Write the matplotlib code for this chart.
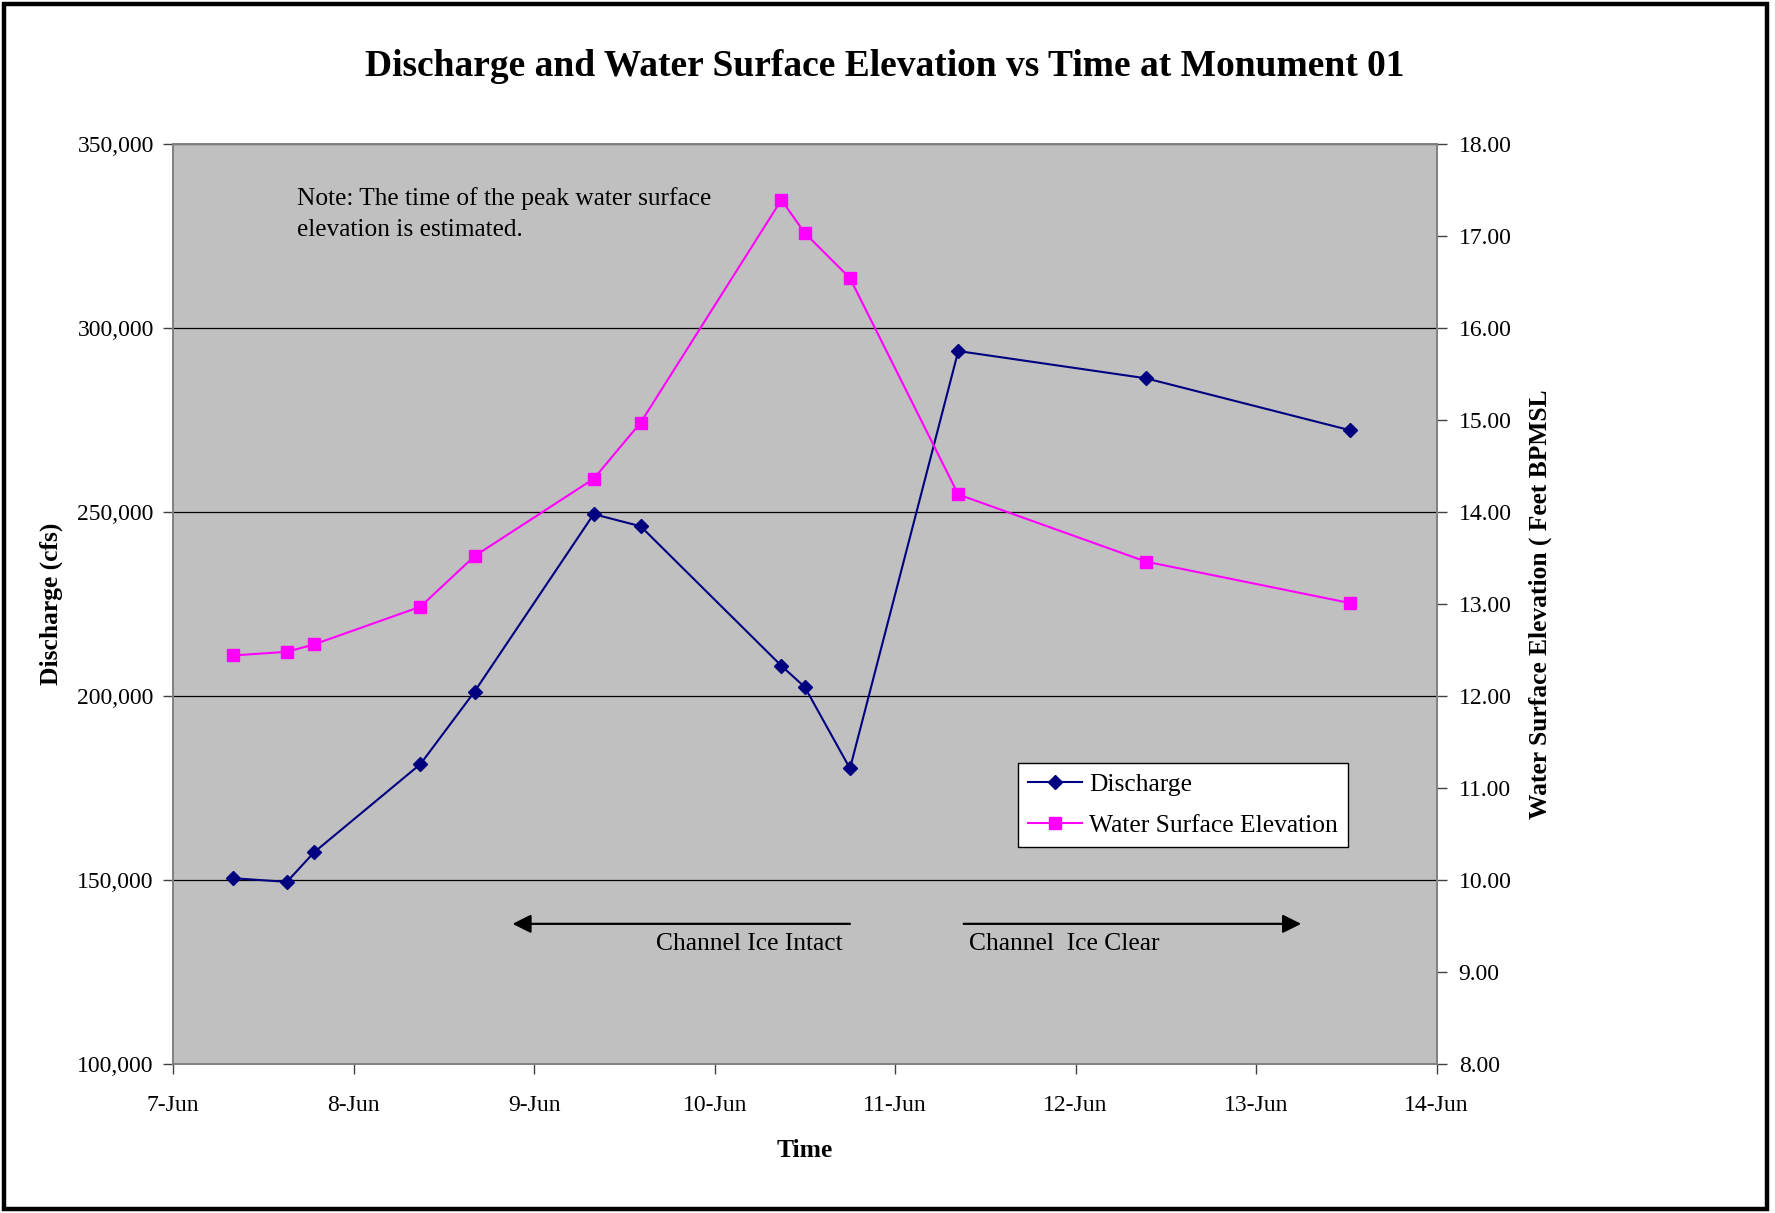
import matplotlib
matplotlib.use("Agg")
import matplotlib.pyplot as plt
from matplotlib.patches import Rectangle
from matplotlib.ticker import FuncFormatter, MultipleLocator

plt.rcParams['font.family'] = ['Liberation Serif', 'DejaVu Serif']

# Days after 7-Jun 00:00
days = [0.33, 0.63, 0.78, 1.37, 1.67, 2.33, 2.59, 3.37, 3.50, 3.75, 4.35, 5.39, 6.52]
discharge = [150500, 149500, 157500, 181500, 201200, 249400, 246100,
             208200, 202400, 180300, 293700, 286300, 272200]
wse = [12.44, 12.48, 12.56, 12.97, 13.52, 14.36, 14.97,
       17.39, 17.03, 16.54, 14.19, 13.46, 13.01]
xtick_labels = ['7-Jun', '8-Jun', '9-Jun', '10-Jun', '11-Jun', '12-Jun', '13-Jun', '14-Jun']

W, H = 1775, 1213
fig = plt.figure(figsize=(W / 100, H / 100), dpi=100)
ax = fig.add_axes([173.2 / W, 1 - 1064.1 / H, (1436.5 - 173.2) / W, (1064.1 - 143.8) / H])
ax.set_facecolor('#C0C0C0')
ax2 = ax.twinx()

ax.set_xlim(0, 7)
ax.set_ylim(100000, 350000)
ax2.set_ylim(8, 18)

ax.yaxis.set_major_locator(MultipleLocator(50000))
ax.yaxis.set_major_formatter(FuncFormatter(lambda v, p: f"{int(v):,}"))
ax2.yaxis.set_major_locator(MultipleLocator(1))
ax2.yaxis.set_major_formatter(FuncFormatter(lambda v, p: f"{v:.2f}"))
ax.set_xticks(range(len(xtick_labels)))
ax.set_xticklabels(xtick_labels)

ax.grid(axis='y', color='black', linewidth=0.9)
ax.set_axisbelow(True)

for a in (ax, ax2):
    for s in a.spines.values():
        s.set_color('#808080')
        s.set_linewidth(1.2)
ax.tick_params(axis='y', direction='out', length=7, width=1, color='#404040', labelsize=17, pad=7)
ax.tick_params(axis='x', direction='out', length=7, width=1, color='#404040', labelsize=17, pad=15)
ax2.tick_params(axis='y', direction='out', length=7, width=1, color='#404040', labelsize=17, pad=9)

l1, = ax.plot(days, discharge, color='#000080', marker='D', markersize=7, linewidth=1.5,
              label='Discharge', zorder=4)
l2, = ax2.plot(days, wse, color='#FF00FF', marker='s', markersize=9, linewidth=1.5,
               label='Water Surface Elevation', zorder=4)

ax.set_xlabel('Time', fontsize=18.4, fontweight='bold', labelpad=17)
ax.set_ylabel('Discharge (cfs)', fontsize=18.4, fontweight='bold', labelpad=10)
ax2.set_ylabel('Water Surface Elevation ( Feet BPMSL', fontsize=18.4, fontweight='bold', labelpad=12)

fig.text(885 / W, 1 - 67 / H, 'Discharge and Water Surface Elevation vs Time at Monument 01',
         ha='center', va='center', fontsize=27, fontweight='bold')

ax.text(0.0977, 0.953, 'Note: The time of the peak water surface\nelevation is estimated.',
        transform=ax.transAxes, ha='left', va='top', fontsize=18.3, linespacing=1.55)

# Arrows
ax.annotate('', xy=(1.88, 138100), xytext=(3.75, 138100),
            arrowprops=dict(arrowstyle='-|>', color='black', lw=1.6, mutation_scale=28,
                            shrinkA=0, shrinkB=0))
ax.annotate('', xy=(6.25, 138100), xytext=(4.38, 138100),
            arrowprops=dict(arrowstyle='-|>', color='black', lw=1.6, mutation_scale=28,
                            shrinkA=0, shrinkB=0))
ax.text(3.71, 132500, 'Channel Ice Intact', ha='right', va='center', fontsize=18.4)
ax.text(4.41, 132500, 'Channel  Ice Clear', ha='left', va='center', fontsize=18.4)

leg = ax2.legend(handles=[l1, l2], loc='upper left',
                 bbox_to_anchor=((1018 - 173.2) / (1436.5 - 173.2), 1 - (763 - 143.8) / (1064.1 - 143.8)),
                 fontsize=18.4, frameon=True, fancybox=False, framealpha=1,
                 edgecolor='black', handlelength=2.1, borderpad=0.4, labelspacing=0.7,
                 handletextpad=0.27, borderaxespad=0)
leg.get_frame().set_linewidth(1.0)

fig.patches.append(Rectangle((4 / W, 4 / H), 1763 / W, 1205 / H, transform=fig.transFigure,
                             fill=False, edgecolor='black', linewidth=3.2))

fig.savefig('out.png', dpi=100)
